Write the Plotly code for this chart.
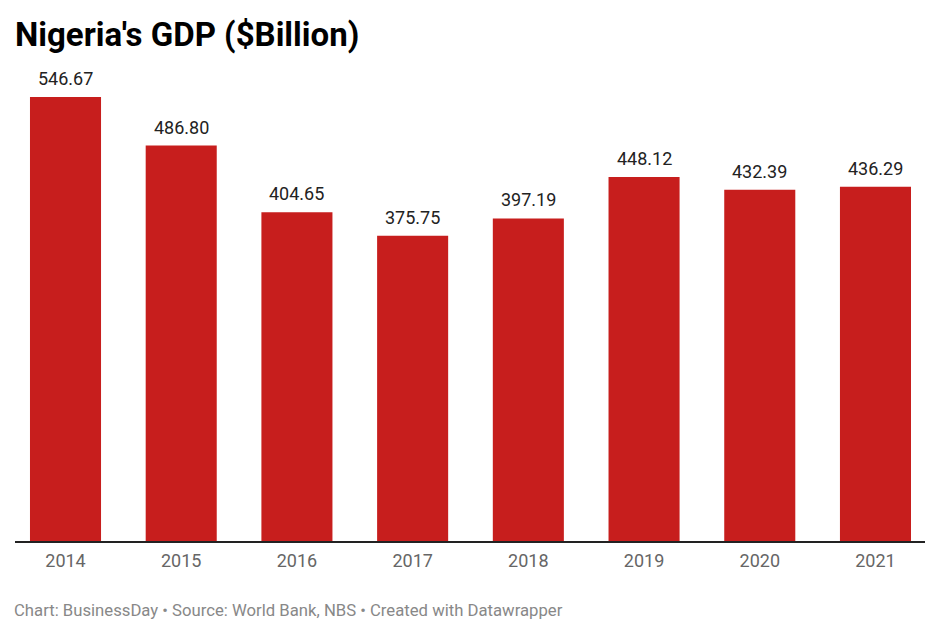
import plotly.graph_objects as go

years = ["2014", "2015", "2016", "2017", "2018", "2019", "2020", "2021"]
gdp = [546.67, 486.80, 404.65, 375.75, 397.19, 448.12, 432.39, 436.29]
value_labels = ["546.67", "486.80", "404.65", "375.75", "397.19", "448.12", "432.39", "436.29"]

title_text = "Nigeria's GDP ($Billion)"
footer_text = "Chart: BusinessDay • Source: World Bank, NBS • Created with Datawrapper"

fig = go.Figure()
fig.add_trace(go.Bar(
    x=list(range(len(years))),
    y=gdp,
    marker=dict(color="#c71e1d", line=dict(width=0)),
    width=0.614,
    hoverinfo="skip",
))

for i, (v, lab) in enumerate(zip(gdp, value_labels)):
    fig.add_annotation(x=i, y=v, text=lab, showarrow=False, yanchor="bottom",
                       yshift=6, font=dict(family="Roboto", size=18, color="#222"))

fig.add_annotation(xref="paper", yref="paper", x=0, y=1, xanchor="left", yanchor="bottom",
                   text="<b>" + title_text + "</b>", showarrow=False, yshift=4,
                   font=dict(family="Roboto", size=33, color="#000"), xshift=-2)

fig.add_annotation(xref="paper", yref="paper", x=0, y=0, xanchor="left", yanchor="top",
                   text=footer_text, showarrow=False, yshift=-58, xshift=-3,
                   font=dict(family="Roboto", size=16.7, color="#888"))

fig.update_layout(
    width=940, height=637,
    margin=dict(l=7, r=23, t=52, b=104),
    paper_bgcolor="white", plot_bgcolor="white",
    showlegend=False,
    font=dict(family="Roboto"),
    xaxis=dict(
        tickmode="array", tickvals=list(range(len(years))), ticktext=years,
        range=[-0.4365, 7.428], showgrid=False, zeroline=False,
        showline=True, linecolor="#222", linewidth=1.5,
        ticks="outside", ticklen=3, tickcolor="rgba(0,0,0,0)",
        tickfont=dict(family="Roboto", size=18, color="#666"),
        fixedrange=True,
    ),
    yaxis=dict(range=[0, 592.2], visible=False, fixedrange=True),
)

fig.write_html("out.html")
